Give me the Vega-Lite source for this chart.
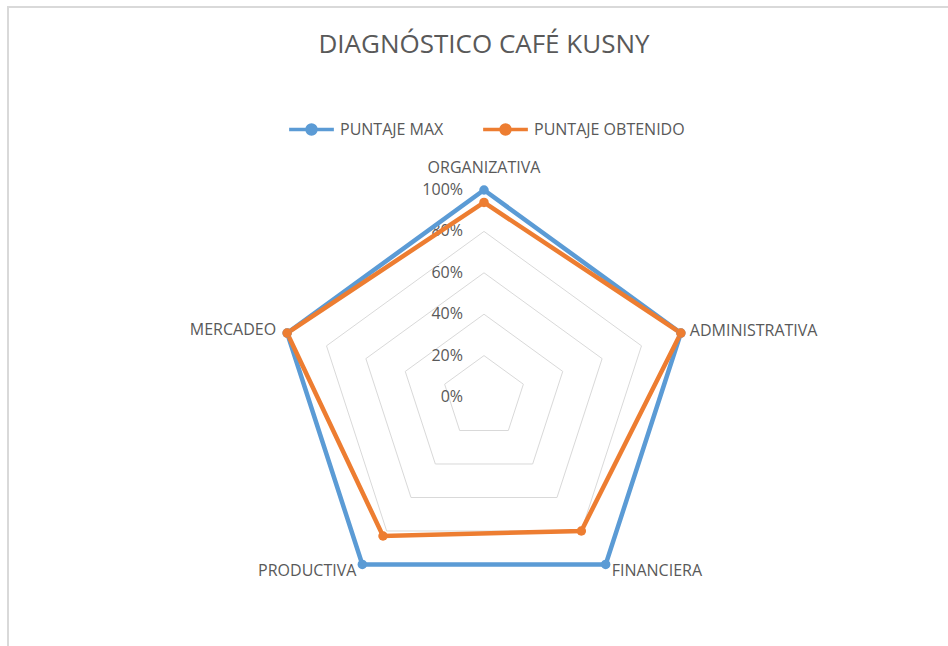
{
  "$schema": "https://vega.github.io/schema/vega-lite/v6.json",
  "autosize": {"type": "none"},
  "padding": {"left": 8, "top": 7, "right": 0, "bottom": 0},
  "width": 952,
  "height": 660,
  "background": "white",
  "config": {
    "view": {"stroke": "#d9d9d9", "strokeWidth": 2},
    "font": "Open Sans",
    "text": {"font": "Open Sans", "fontSize": 16, "color": "#595959"}
  },
  "title": {
    "text": "DIAGNÓSTICO CAFÉ KUSNY",
    "font": "Open Sans",
    "fontSize": 26,
    "fontWeight": "normal",
    "color": "#595959",
    "anchor": "middle",
    "frame": "group",
    "baseline": "alphabetic",
    "offset": -72
  },
  "datasets": {
    "scores": [
      {"series": "PUNTAJE MAX", "cat": "ORGANIZATIVA", "value": 1.0},
      {"series": "PUNTAJE MAX", "cat": "ADMINISTRATIVA", "value": 1.0},
      {"series": "PUNTAJE MAX", "cat": "FINANCIERA", "value": 1.0},
      {"series": "PUNTAJE MAX", "cat": "PRODUCTIVA", "value": 1.0},
      {"series": "PUNTAJE MAX", "cat": "MERCADEO", "value": 1.0},
      {"series": "PUNTAJE OBTENIDO", "cat": "ORGANIZATIVA", "value": 0.94},
      {"series": "PUNTAJE OBTENIDO", "cat": "ADMINISTRATIVA", "value": 1.0},
      {"series": "PUNTAJE OBTENIDO", "cat": "FINANCIERA", "value": 0.8},
      {"series": "PUNTAJE OBTENIDO", "cat": "PRODUCTIVA", "value": 0.83},
      {"series": "PUNTAJE OBTENIDO", "cat": "MERCADEO", "value": 1.0}
    ],
    "grid": [
      {"level": 0.2, "cat": ["ORGANIZATIVA", "ADMINISTRATIVA", "FINANCIERA", "PRODUCTIVA", "MERCADEO"]},
      {"level": 0.4, "cat": ["ORGANIZATIVA", "ADMINISTRATIVA", "FINANCIERA", "PRODUCTIVA", "MERCADEO"]},
      {"level": 0.6, "cat": ["ORGANIZATIVA", "ADMINISTRATIVA", "FINANCIERA", "PRODUCTIVA", "MERCADEO"]},
      {"level": 0.8, "cat": ["ORGANIZATIVA", "ADMINISTRATIVA", "FINANCIERA", "PRODUCTIVA", "MERCADEO"]},
      {"level": 1.0, "cat": ["ORGANIZATIVA", "ADMINISTRATIVA", "FINANCIERA", "PRODUCTIVA", "MERCADEO"]}
    ],
    "levels": [
      {"level": 0}, {"level": 0.2}, {"level": 0.4}, {"level": 0.6}, {"level": 0.8}, {"level": 1.0}
    ],
    "cats": [
      {"cat": "ORGANIZATIVA", "value": 1},
      {"cat": "ADMINISTRATIVA", "value": 1},
      {"cat": "FINANCIERA", "value": 1},
      {"cat": "PRODUCTIVA", "value": 1},
      {"cat": "MERCADEO", "value": 1}
    ]
  },
  "layer": [
    {
      "data": {"name": "grid"},
      "transform": [
        {"flatten": ["cat"]},
        {"calculate": "indexof(['ORGANIZATIVA','ADMINISTRATIVA','FINANCIERA','PRODUCTIVA','MERCADEO'], datum.cat)", "as": "k"},
        {"calculate": "datum.k*2*PI/5", "as": "a"},
        {"calculate": "datum.level*sin(datum.a)", "as": "px"},
        {"calculate": "datum.level*cos(datum.a)", "as": "py"}
      ],
      "mark": {"type": "line", "interpolate": "linear-closed", "stroke": "#d9d9d9", "strokeWidth": 1},
      "encoding": {
        "x": {"field": "px", "type": "quantitative", "scale": {"domain": [-2.2995, 2.2995], "nice": false, "zero": false}, "axis": null},
        "y": {"field": "py", "type": "quantitative", "scale": {"domain": [-1.3043, 1.8841], "nice": false, "zero": false}, "axis": null},
        "detail": {"field": "level", "type": "nominal"},
        "order": {"field": "k", "type": "quantitative"}
      }
    },
    {
      "data": {"name": "levels"},
      "mark": {"type": "text", "align": "right", "baseline": "middle", "dx": -21, "fontSize": 16, "color": "#595959"},
      "encoding": {
        "x": {"datum": 0, "type": "quantitative"},
        "y": {"field": "level", "type": "quantitative"},
        "text": {"field": "level", "type": "quantitative", "format": ".0%"}
      }
    },
    {
      "data": {"name": "scores"},
      "transform": [
        {"calculate": "indexof(['ORGANIZATIVA','ADMINISTRATIVA','FINANCIERA','PRODUCTIVA','MERCADEO'], datum.cat)", "as": "k"},
        {"calculate": "datum.k*2*PI/5", "as": "a"},
        {"calculate": "datum.value*sin(datum.a)", "as": "px"},
        {"calculate": "datum.value*cos(datum.a)", "as": "py"}
      ],
      "layer": [
        {
          "mark": {"type": "line", "interpolate": "linear-closed", "strokeWidth": 4.5},
          "encoding": {
            "x": {"field": "px", "type": "quantitative"},
            "y": {"field": "py", "type": "quantitative"},
            "order": {"field": "k", "type": "quantitative"},
            "color": {
              "field": "series", "type": "nominal",
              "scale": {"domain": ["PUNTAJE MAX", "PUNTAJE OBTENIDO"], "range": ["#5B9BD5", "#ED7D31"]},
              "legend": {
                "orient": "none", "legendX": 279, "legendY": 98, "direction": "horizontal", "title": null,
                "symbolType": "M-1,0L1,0M-0.2,0A0.2,0.2,0,1,1,0.2,0A0.2,0.2,0,1,1,-0.2,0",
                "symbolSize": 2000, "symbolStrokeWidth": 3.5,
                "labelFont": "Open Sans", "labelFontSize": 16, "labelColor": "#595959",
                "labelOffset": 4, "columnPadding": 32,
                "encode": {"symbols": {"update": {"fill": {"scale": "color", "field": "value"}, "stroke": {"scale": "color", "field": "value"}, "fillOpacity": {"value": 1}}}}
              }
            }
          }
        },
        {
          "mark": {"type": "point", "filled": true, "size": 90, "opacity": 1},
          "encoding": {
            "x": {"field": "px", "type": "quantitative"},
            "y": {"field": "py", "type": "quantitative"},
            "color": {"field": "series", "type": "nominal"}
          }
        }
      ]
    },
    {
      "data": {"name": "cats"},
      "transform": [
        {"calculate": "indexof(['ORGANIZATIVA','ADMINISTRATIVA','FINANCIERA','PRODUCTIVA','MERCADEO'], datum.cat)", "as": "k"},
        {"calculate": "datum.k*2*PI/5", "as": "a"},
        {"calculate": "datum.value*sin(datum.a)", "as": "px"},
        {"calculate": "datum.value*cos(datum.a)", "as": "py"}
      ],
      "layer": [
        {
          "transform": [{"filter": "datum.cat == 'ORGANIZATIVA'"}],
          "mark": {"type": "text", "align": "center", "baseline": "middle", "dy": -22, "fontSize": 16, "color": "#595959"},
          "encoding": {"x": {"field": "px", "type": "quantitative"}, "y": {"field": "py", "type": "quantitative"}, "text": {"field": "cat"}}
        },
        {
          "transform": [{"filter": "datum.cat == 'ADMINISTRATIVA'"}],
          "mark": {"type": "text", "align": "left", "baseline": "middle", "dx": 9, "dy": -2, "fontSize": 16, "color": "#595959"},
          "encoding": {"x": {"field": "px", "type": "quantitative"}, "y": {"field": "py", "type": "quantitative"}, "text": {"field": "cat"}}
        },
        {
          "transform": [{"filter": "datum.cat == 'MERCADEO'"}],
          "mark": {"type": "text", "align": "right", "baseline": "middle", "dx": -11, "dy": -3, "fontSize": 16, "color": "#595959"},
          "encoding": {"x": {"field": "px", "type": "quantitative"}, "y": {"field": "py", "type": "quantitative"}, "text": {"field": "cat"}}
        },
        {
          "transform": [{"filter": "datum.cat == 'FINANCIERA'"}],
          "mark": {"type": "text", "align": "left", "baseline": "middle", "dx": 6, "dy": 7, "fontSize": 16, "color": "#595959"},
          "encoding": {"x": {"field": "px", "type": "quantitative"}, "y": {"field": "py", "type": "quantitative"}, "text": {"field": "cat"}}
        },
        {
          "transform": [{"filter": "datum.cat == 'PRODUCTIVA'"}],
          "mark": {"type": "text", "align": "right", "baseline": "middle", "dx": -6, "dy": 7, "fontSize": 16, "color": "#595959"},
          "encoding": {"x": {"field": "px", "type": "quantitative"}, "y": {"field": "py", "type": "quantitative"}, "text": {"field": "cat"}}
        }
      ]
    }
  ]
}
